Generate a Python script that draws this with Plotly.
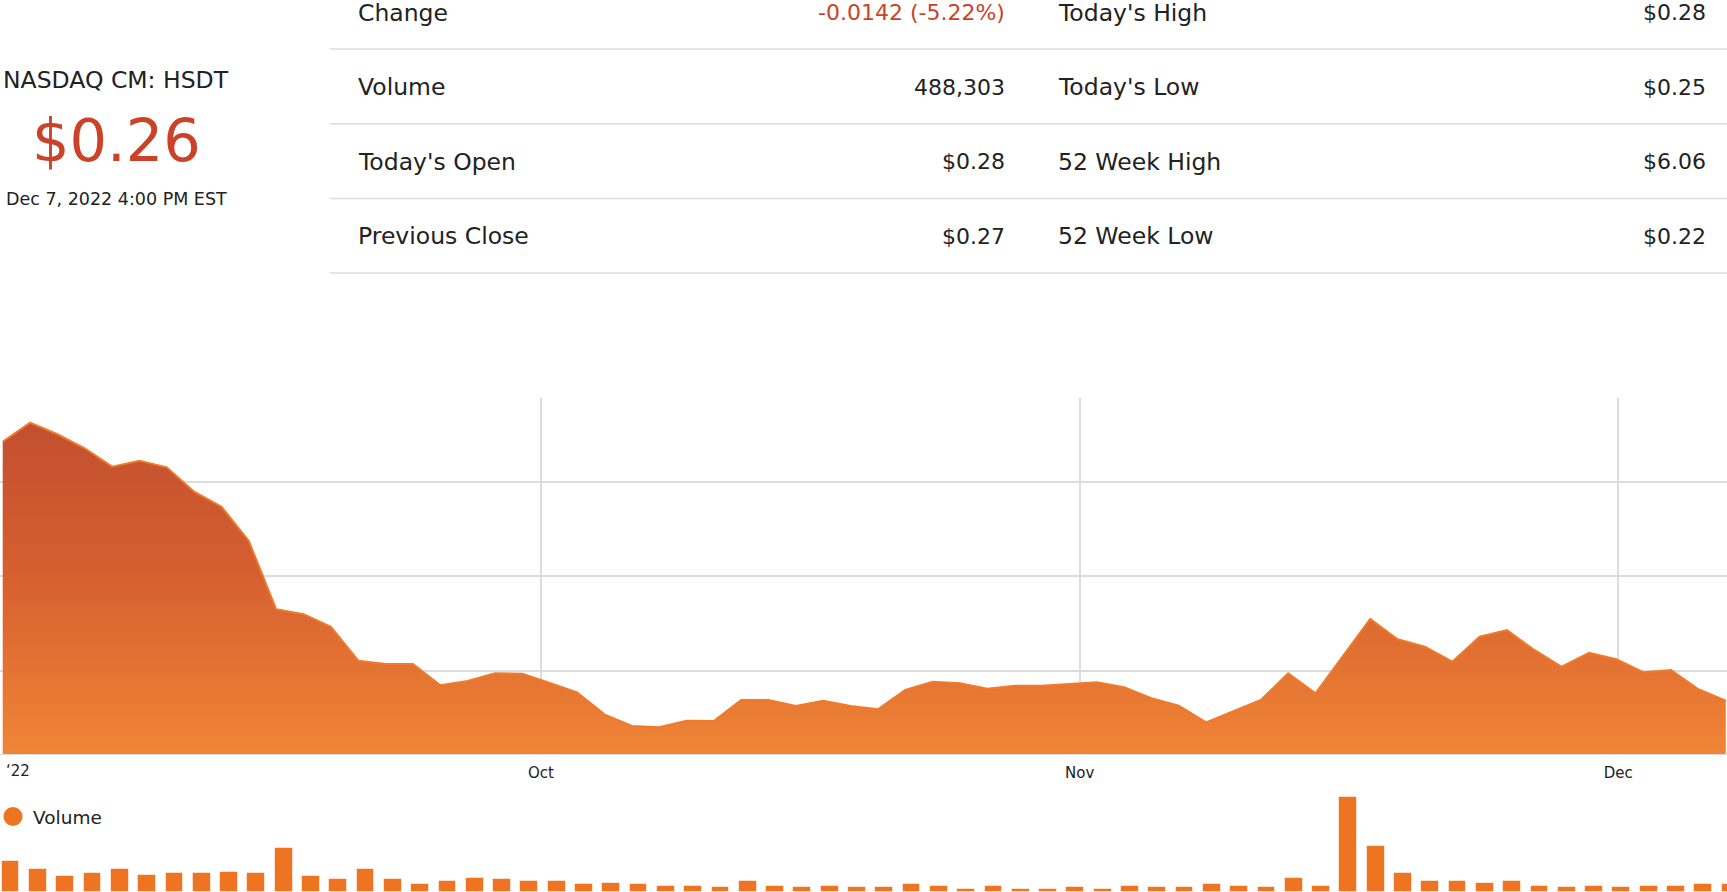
import plotly.graph_objects as go

W, H = 1727, 892

# ---------------- data ----------------
price = [0.5430, 0.5633, 0.5510, 0.5361, 0.5166, 0.5229, 0.5159, 0.4900, 0.4741, 0.4377,
         0.3652, 0.3599, 0.3467, 0.3106, 0.3071, 0.3071, 0.2845, 0.2891, 0.2972, 0.2968,
         0.2869, 0.2771, 0.2537, 0.2413, 0.2399, 0.2469, 0.2466, 0.2689, 0.2689, 0.2625,
         0.2682, 0.2625, 0.2590, 0.2795, 0.2883, 0.2866, 0.2809, 0.2841, 0.2841, 0.2856,
         0.2877, 0.2824, 0.2707, 0.2628, 0.2452, 0.2569, 0.2689, 0.2972, 0.2760, 0.3156,
         0.3549, 0.3333, 0.3255, 0.3096, 0.3361, 0.3432, 0.3220, 0.3042, 0.3191, 0.3121,
         0.2983, 0.3007, 0.2803, 0.2682]

volume = [1965000, 1477000, 995000, 1186000, 1477000, 1097000, 1186000, 1186000, 1287000, 1186000,
          2790000, 995000, 805000, 1477000, 805000, 488000, 697000, 888000, 805000, 697000,
          697000, 488000, 590000, 488000, 380000, 380000, 298000, 697000, 380000, 298000,
          380000, 298000, 298000, 488000, 380000, 190000, 380000, 190000, 190000, 298000,
          190000, 380000, 298000, 298000, 488000, 380000, 298000, 888000, 380000, 6042000,
          2897000, 1186000, 697000, 697000, 590000, 697000, 380000, 298000, 380000, 298000,
          380000, 380000, 488000, 488303]

session = list(range(len(price)))          # trading-session index

tick_pos = [19.68, 39.38, 59.07]
tick_text = ["Oct", "Nov", "Dec"]
first_tick_text = "\u201822"
price_grid = [0.3, 0.4, 0.5]

ticker = "NASDAQ CM: HSDT"
last_price = "$0.26"
timestamp = "Dec 7, 2022 4:00 PM EST"

left_labels = ["Change", "Volume", "Today's Open", "Previous Close"]
left_values = ["-0.0142 (-5.22%)", "488,303", "$0.28", "$0.27"]
right_labels = ["Today's High", "Today's Low", "52 Week High", "52 Week Low"]
right_values = ["$0.28", "$0.25", "$6.06", "$0.22"]

# ---------------- styling ----------------
FONT = "DejaVu Sans"
DARK = "#222222"
RED = "#cb4228"
ORANGE = "#ee7421"
GRID = "#dcdcdc"


def px(x):
    return x / W


def py(y):
    return 1 - y / H


y_lo, y_hi = 0.21157, 0.58947

fig = go.Figure()

fig.add_trace(go.Scatter(
    x=session, y=price, mode="lines",
    line=dict(color="#f07a2a", width=2),
    fill="tozeroy",
    fillgradient=dict(type="vertical",
                      colorscale=[[0, "#f08536"], [0.55, "#d55f2f"], [1, "#c24f30"]],
                      start=y_lo, stop=max(price)),
    xaxis="x", yaxis="y", showlegend=False, hoverinfo="skip"))

fig.add_trace(go.Bar(
    x=session, y=volume, width=0.652,
    marker=dict(color=ORANGE, line=dict(color="rgba(255,255,255,0.55)", width=1)),
    xaxis="x2", yaxis="y2", showlegend=False, hoverinfo="skip", name="Volume"))

fig.add_trace(go.Scatter(
    x=[None], y=[None], mode="markers",
    marker=dict(symbol="circle", size=18, color=ORANGE,
                line=dict(color=ORANGE, width=3)),
    name="Volume", xaxis="x2", yaxis="y2", showlegend=True))

LS = 23.5  # table label font size
VS = 22    # table value font size
annotations = [
    dict(x=px(116), y=py(80), text=ticker, font=dict(size=23.5, color=DARK)),
    dict(x=px(116), y=py(140), text=last_price, font=dict(size=59, color=RED)),
    dict(x=px(116), y=py(199), text=timestamp, font=dict(size=17.5, color=DARK)),
    dict(x=px(4), y=py(771), text=first_tick_text, xanchor="left",
         font=dict(size=15, color="#222222")),
]
row_y = [13, 87, 161.5, 236]
for i in range(4):
    annotations.append(dict(x=px(356), y=py(row_y[i]), text=left_labels[i], xanchor="left",
                            font=dict(size=LS, color=DARK)))
    annotations.append(dict(x=px(1007), y=py(row_y[i]), text=left_values[i], xanchor="right",
                            font=dict(size=VS, color=RED if i == 0 else DARK)))
    annotations.append(dict(x=px(1056), y=py(row_y[i]), text=right_labels[i], xanchor="left",
                            font=dict(size=LS, color=DARK)))
    annotations.append(dict(x=px(1708), y=py(row_y[i]), text=right_values[i], xanchor="right",
                            font=dict(size=VS, color=DARK)))
for a in annotations:
    a.setdefault("xanchor", "center")
    a["yanchor"] = "middle"
    a["xref"] = "paper"
    a["yref"] = "paper"
    a["showarrow"] = False

shapes = []
for yy in [49, 123.7, 198.4, 273]:
    shapes.append(dict(type="line", xref="paper", yref="paper",
                       x0=px(330), x1=1, y0=py(yy), y1=py(yy),
                       line=dict(color=GRID, width=1.5)))

fig.update_layout(
    width=W, height=H, autosize=False,
    margin=dict(l=0, r=0, t=0, b=0, autoexpand=False),
    paper_bgcolor="white", plot_bgcolor="white",
    font=dict(family=FONT, color=DARK),
    xaxis=dict(domain=[0, 1], range=[-0.0987, 63.045], anchor="y",
               tickmode="array", tickvals=tick_pos, ticktext=tick_text,
               showgrid=True, gridcolor=GRID, gridwidth=2,
               showline=True, linecolor=GRID, linewidth=1,
               ticks="outside", ticklen=5, tickcolor="rgba(0,0,0,0)",
               tickfont=dict(size=15, color="#222222"), zeroline=False),
    yaxis=dict(domain=[py(754), py(398)], range=[y_lo, y_hi],
               tickmode="array", tickvals=price_grid, showticklabels=False,
               showgrid=True, gridcolor=GRID, gridwidth=2, zeroline=False),
    xaxis2=dict(domain=[0, 1], range=[-0.388, 62.87], anchor="y2",
                showgrid=False, showticklabels=False, zeroline=False, showline=False),
    yaxis2=dict(domain=[0, py(785)], range=[0, 107 * 63400],
                showgrid=False, showticklabels=False, zeroline=False),
    legend=dict(x=px(-7), y=py(817), xanchor="left", yanchor="middle",
                font=dict(size=18.5, color=DARK), bgcolor="rgba(0,0,0,0)"),
    annotations=annotations,
    shapes=shapes,
    bargap=0,
)

fig.write_html(
    "out.html",
    config={"displayModeBar": False},
    post_script="document.body.style.margin='0';document.body.style.overflow='hidden';",
)
